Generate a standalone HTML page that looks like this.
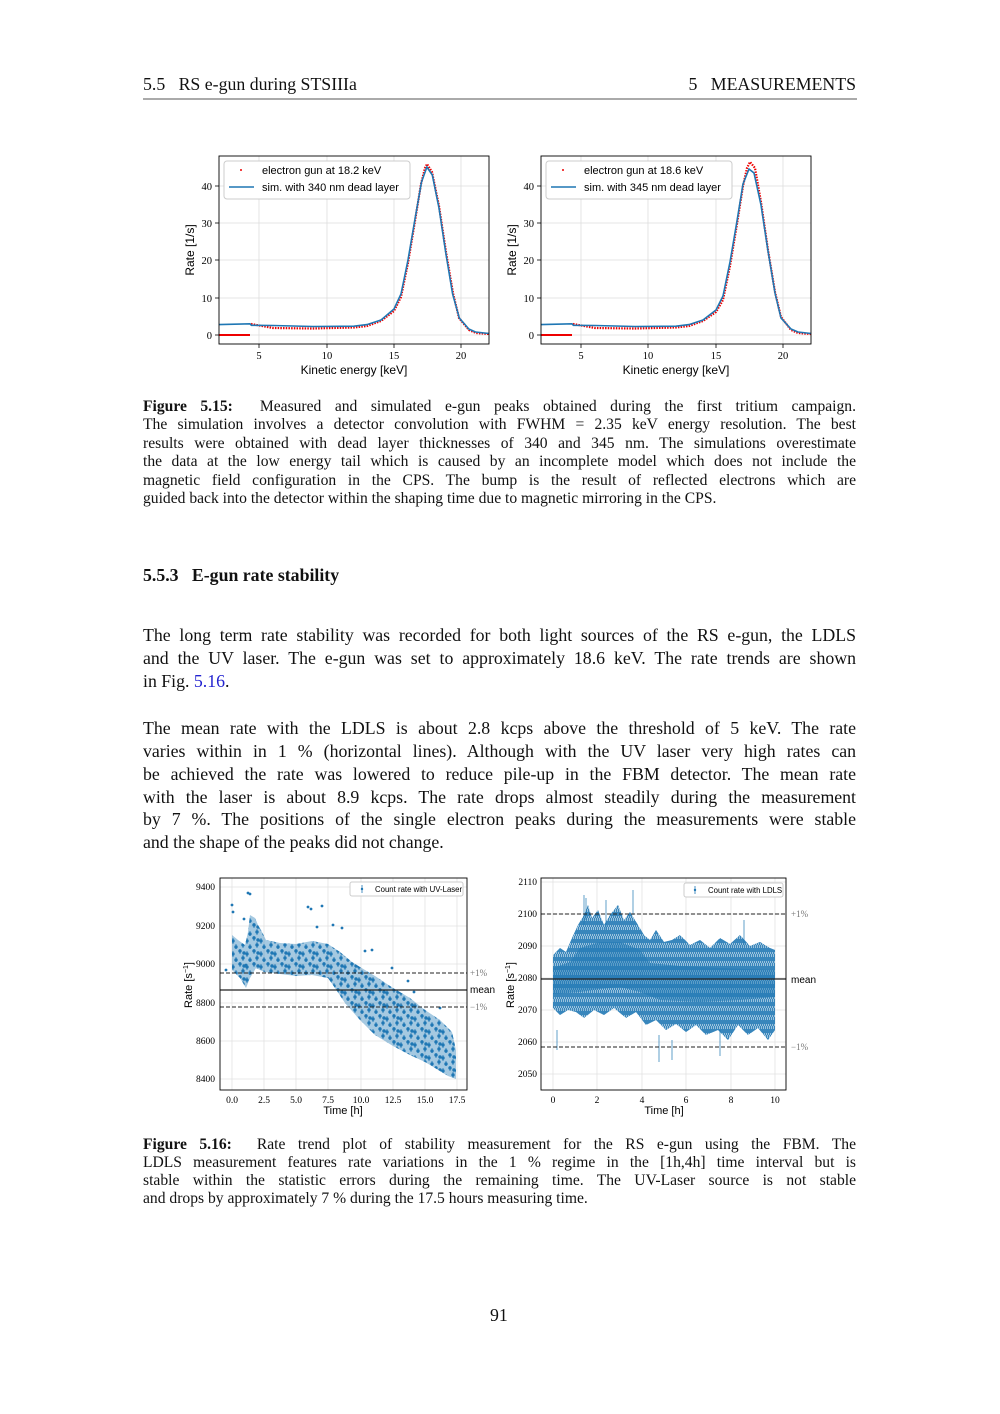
<!DOCTYPE html>
<html><head><meta charset="utf-8">
<style>
body{margin:0;background:#fff;width:1000px;height:1414px;position:relative;overflow:hidden;font-family:"Liberation Serif",serif;color:#111}
.t{position:absolute;white-space:nowrap}
.l{position:absolute;left:143px;width:713px;text-align:justify;text-align-last:justify;white-space:nowrap;font-size:17.8px}
.c{position:absolute;left:143px;width:713px;text-align:justify;text-align-last:justify;white-space:nowrap;font-size:15.6px}
.last{text-align-last:left}
svg{position:absolute;left:0;top:0}
.sn{font-family:"Liberation Sans",sans-serif}
.sr{font-family:"Liberation Serif",serif}
</style></head><body>
<div class="t" style="left:143px;top:74px;font-size:17.8px">5.5&nbsp;&nbsp;&nbsp;RS e-gun during STSIIIa</div>
<div class="t" style="right:144px;top:74px;font-size:17.8px">5&nbsp;&nbsp;&nbsp;MEASUREMENTS</div>
<div style="position:absolute;left:143px;top:98px;width:714px;height:2px;background:#aaa"></div>

<svg width="1000" height="1414" xmlns="http://www.w3.org/2000/svg">
<defs>
<pattern id="pd" width="14" height="13" patternUnits="userSpaceOnUse">
<g fill="#1f77b4" stroke="#1f77b4" stroke-width="0.8">
<circle cx="2" cy="2" r="1.3"/><line x1="2" y1="-1" x2="2" y2="5"/>
<circle cx="9" cy="5" r="1.3"/><line x1="9" y1="2" x2="9" y2="8"/>
<circle cx="5" cy="9" r="1.3"/><line x1="5" y1="6" x2="5" y2="12"/>
<circle cx="12" cy="11" r="1.3"/><line x1="12" y1="8" x2="12" y2="14"/>
<circle cx="6" cy="4" r="1.3"/>
</g></pattern>
<pattern id="pv" width="2" height="9" patternUnits="userSpaceOnUse">
<line x1="0.5" y1="0" x2="0.5" y2="7" stroke="#1f77b4" stroke-width="0.8"/>
<line x1="1.5" y1="3" x2="1.5" y2="9" stroke="#1f77b4" stroke-width="0.8"/>
</pattern>
</defs>

<!-- ===== top ===== -->
<g stroke="#ddd" stroke-width="0.8">
<line x1="259" y1="156" x2="259" y2="344"/><line x1="327" y1="156" x2="327" y2="344"/><line x1="394" y1="156" x2="394" y2="344"/><line x1="461" y1="156" x2="461" y2="344"/>
<line x1="219" y1="335" x2="489" y2="335"/><line x1="219" y1="298" x2="489" y2="298"/><line x1="219" y1="260" x2="489" y2="260"/><line x1="219" y1="223" x2="489" y2="223"/><line x1="219" y1="186" x2="489" y2="186"/>
<line x1="581" y1="156" x2="581" y2="344"/><line x1="648" y1="156" x2="648" y2="344"/><line x1="716" y1="156" x2="716" y2="344"/><line x1="783" y1="156" x2="783" y2="344"/>
<line x1="541" y1="335" x2="811" y2="335"/><line x1="541" y1="298" x2="811" y2="298"/><line x1="541" y1="260" x2="811" y2="260"/><line x1="541" y1="223" x2="811" y2="223"/><line x1="541" y1="186" x2="811" y2="186"/>
</g>
<g stroke="#000" stroke-width="0.8">
<line x1="259" y1="344" x2="259" y2="348"/><line x1="327" y1="344" x2="327" y2="348"/><line x1="394" y1="344" x2="394" y2="348"/><line x1="461" y1="344" x2="461" y2="348"/>
<line x1="215" y1="335" x2="219" y2="335"/><line x1="215" y1="298" x2="219" y2="298"/><line x1="215" y1="260" x2="219" y2="260"/><line x1="215" y1="223" x2="219" y2="223"/><line x1="215" y1="186" x2="219" y2="186"/>
<line x1="581" y1="344" x2="581" y2="348"/><line x1="648" y1="344" x2="648" y2="348"/><line x1="716" y1="344" x2="716" y2="348"/><line x1="783" y1="344" x2="783" y2="348"/>
<line x1="537" y1="335" x2="541" y2="335"/><line x1="537" y1="298" x2="541" y2="298"/><line x1="537" y1="260" x2="541" y2="260"/><line x1="537" y1="223" x2="541" y2="223"/><line x1="537" y1="186" x2="541" y2="186"/>
</g>
<g class="sr" font-size="10.5" text-anchor="middle">
<text x="259" y="359">5</text><text x="327" y="359">10</text><text x="394" y="359">15</text><text x="461" y="359">20</text>
<text x="581" y="359">5</text><text x="648" y="359">10</text><text x="716" y="359">15</text><text x="783" y="359">20</text>
</g>
<g class="sr" font-size="10.5" text-anchor="end">
<text x="212" y="339">0</text><text x="212" y="302">10</text><text x="212" y="264">20</text><text x="212" y="227">30</text><text x="212" y="190">40</text>
<text x="534" y="339">0</text><text x="534" y="302">10</text><text x="534" y="264">20</text><text x="534" y="227">30</text><text x="534" y="190">40</text>
</g>
<line x1="219" y1="335" x2="250" y2="335" stroke="#e00" stroke-width="2"/>
<path d="M251,324 L273,328 L313,328.5 L354,327.5 L367,326 L381,321 L394,311 L401,297 L408,263 L415,221 L421,184 L425,168 L427,164 L432,172 L439,206 L446,252 L453,293 L459,318 L469,330 L476,333 L489,334" fill="none" stroke="#e00" stroke-width="2.2" stroke-dasharray="1.5,1.2"/>
<line x1="541" y1="335" x2="572" y2="335" stroke="#e00" stroke-width="2"/>
<path d="M573,324 L595,328 L635,328.5 L676,327.5 L689,326 L703,321 L716,312 L723,300 L730,266 L737,224 L743,186 L747,168 L750,162 L755,168 L761,202 L768,250 L775,292 L781,317 L791,330 L798,333 L811,334" fill="none" stroke="#e00" stroke-width="2.2" stroke-dasharray="1.5,1.2"/>
<path d="M219,324.6 L250,323.8 L251.4,325.3 L273,325.5 L313,326.5 L354,326.2 L367,324.6 L381,320 L394,309 L401,294 L408,260 L415,219 L421.5,182 L426.9,167 L432.3,175 L439,208 L445.8,253 L452.6,294 L459.3,318 L468.8,329 L475.5,332 L489,333.5" fill="none" stroke="#1f77b4" stroke-width="1.6"/>
<path d="M541,324.6 L572,323.8 L573.4,325.3 L595,325.5 L635,326.5 L676,326.2 L689,324.6 L703,320 L716,310 L723,296 L730,262 L737,221 L743,184 L749,169 L754,173 L761,205 L768,251 L775,293 L781,318 L791,329 L798,332 L811,333.5" fill="none" stroke="#1f77b4" stroke-width="1.6"/>
<rect x="219" y="156" width="270" height="188" fill="none" stroke="#000" stroke-width="0.9"/>
<rect x="541" y="156" width="270" height="188" fill="none" stroke="#000" stroke-width="0.9"/>
<rect x="224" y="161" width="186" height="38" fill="#fff" stroke="#ccc" rx="3"/>
<circle cx="241" cy="170" r="1" fill="#e00"/><line x1="229" y1="187" x2="254" y2="187" stroke="#1f77b4" stroke-width="1.6"/>
<text class="sn" x="262" y="174" font-size="11">electron gun at 18.2 keV</text>
<text class="sn" x="262" y="191" font-size="11">sim. with 340 nm dead layer</text>
<rect x="546" y="161" width="186" height="38" fill="#fff" stroke="#ccc" rx="3"/>
<circle cx="563" cy="170" r="1" fill="#e00"/><line x1="551" y1="187" x2="576" y2="187" stroke="#1f77b4" stroke-width="1.6"/>
<text class="sn" x="584" y="174" font-size="11">electron gun at 18.6 keV</text>
<text class="sn" x="584" y="191" font-size="11">sim. with 345 nm dead layer</text>
<text class="sn" x="354" y="374" font-size="12" text-anchor="middle">Kinetic energy [keV]</text>
<text class="sn" x="676" y="374" font-size="12" text-anchor="middle">Kinetic energy [keV]</text>
<text class="sn" font-size="12" text-anchor="middle" transform="translate(194,250) rotate(-90)">Rate [1/s]</text>
<text class="sn" font-size="12" text-anchor="middle" transform="translate(516,250) rotate(-90)">Rate [1/s]</text>

<!-- ===== bottom left ===== -->
<g stroke="#e2e2e2" stroke-width="0.8">
<line x1="232" y1="878" x2="232" y2="1090"/><line x1="264" y1="878" x2="264" y2="1090"/><line x1="296" y1="878" x2="296" y2="1090"/><line x1="328" y1="878" x2="328" y2="1090"/><line x1="361" y1="878" x2="361" y2="1090"/><line x1="393" y1="878" x2="393" y2="1090"/><line x1="425" y1="878" x2="425" y2="1090"/><line x1="457" y1="878" x2="457" y2="1090"/>
<line x1="220" y1="887" x2="467" y2="887"/><line x1="220" y1="926" x2="467" y2="926"/><line x1="220" y1="964" x2="467" y2="964"/><line x1="220" y1="1003" x2="467" y2="1003"/><line x1="220" y1="1041" x2="467" y2="1041"/><line x1="220" y1="1079" x2="467" y2="1079"/>
</g>
<g class="sr" font-size="9.5" text-anchor="middle">
<text x="232" y="1103">0.0</text><text x="264" y="1103">2.5</text><text x="296" y="1103">5.0</text><text x="328" y="1103">7.5</text><text x="361" y="1103">10.0</text><text x="393" y="1103">12.5</text><text x="425" y="1103">15.0</text><text x="457" y="1103">17.5</text>
</g>
<g class="sr" font-size="9.5" text-anchor="end">
<text x="215" y="890">9400</text><text x="215" y="929">9200</text><text x="215" y="967">9000</text><text x="215" y="1006">8800</text><text x="215" y="1044">8600</text><text x="215" y="1082">8400</text>
</g>
<polygon points="232,935 238,940 245,945 248,932 250,915 255,918 258,925 262,932 266,940 280,943 296,944 312,941 328,944 340,952 352,962 360,967 375,976 393,988 410,998 425,1010 440,1020 452,1032 456,1050 456,1079 448,1076 435,1068 425,1062 410,1055 393,1046 375,1035 360,1020 345,1003 335,988 328,978 312,975 296,976 280,974 264,972 256,968 250,978 246,988 240,978 232,970" fill="#1f77b4" fill-opacity="0.4"/>
<polygon points="232,935 238,940 245,945 248,932 250,915 255,918 258,925 262,932 266,940 280,943 296,944 312,941 328,944 340,952 352,962 360,967 375,976 393,988 410,998 425,1010 440,1020 452,1032 456,1050 456,1079 448,1076 435,1068 425,1062 410,1055 393,1046 375,1035 360,1020 345,1003 335,988 328,978 312,975 296,976 280,974 264,972 256,968 250,978 246,988 240,978 232,970" fill="url(#pd)"/>
<g fill="#1f77b4">
<circle cx="232" cy="905" r="1.4"/><circle cx="233" cy="912" r="1.4"/><circle cx="248" cy="893" r="1.4"/><circle cx="250" cy="894" r="1.4"/><circle cx="244" cy="919" r="1.4"/><circle cx="308" cy="907" r="1.4"/><circle cx="311" cy="909" r="1.4"/><circle cx="322" cy="906" r="1.4"/><circle cx="333" cy="925" r="1.4"/><circle cx="317" cy="927" r="1.4"/><circle cx="342" cy="928" r="1.4"/><circle cx="365" cy="951" r="1.4"/><circle cx="372" cy="950" r="1.4"/><circle cx="392" cy="968" r="1.4"/><circle cx="408" cy="981" r="1.4"/><circle cx="414" cy="992" r="1.4"/><circle cx="440" cy="1008" r="1.4"/><circle cx="246" cy="965" r="1.4"/><circle cx="226" cy="970" r="1.4"/>
</g>
<line x1="220" y1="990" x2="467" y2="990" stroke="#222" stroke-width="1.2"/>
<line x1="220" y1="973" x2="467" y2="973" stroke="#222" stroke-width="1.1" stroke-dasharray="4,2"/>
<line x1="220" y1="1007" x2="467" y2="1007" stroke="#222" stroke-width="1.1" stroke-dasharray="4,2"/>
<rect x="220" y="878" width="247" height="212" fill="none" stroke="#000" stroke-width="0.9"/>
<text class="sr" x="470" y="976" font-size="9" fill="#777">+1%</text>
<text class="sn" x="470" y="993" font-size="10">mean</text>
<text class="sr" x="470" y="1010" font-size="9" fill="#777">−1%</text>
<rect x="350" y="882" width="113" height="14" fill="#fff" stroke="#ccc" rx="2"/>
<line x1="362" y1="885" x2="362" y2="893" stroke="#1f77b4" stroke-width="0.8"/><circle cx="362" cy="889" r="1.2" fill="#1f77b4"/>
<text class="sn" x="375" y="892" font-size="7.8">Count rate with UV-Laser</text>
<text class="sn" x="343" y="1114" font-size="11" text-anchor="middle">Time [h]</text>
<text class="sn" font-size="11" text-anchor="middle" transform="translate(192,985) rotate(-90)">Rate [s<tspan font-size="7" dy="-4">−1</tspan><tspan dy="4">]</tspan></text>

<!-- ===== bottom right ===== -->
<g stroke="#e2e2e2" stroke-width="0.8">
<line x1="553" y1="878" x2="553" y2="1090"/><line x1="597" y1="878" x2="597" y2="1090"/><line x1="642" y1="878" x2="642" y2="1090"/><line x1="686" y1="878" x2="686" y2="1090"/><line x1="731" y1="878" x2="731" y2="1090"/><line x1="775" y1="878" x2="775" y2="1090"/>
<line x1="541" y1="882" x2="786" y2="882"/><line x1="541" y1="914" x2="786" y2="914"/><line x1="541" y1="946" x2="786" y2="946"/><line x1="541" y1="978" x2="786" y2="978"/><line x1="541" y1="1010" x2="786" y2="1010"/><line x1="541" y1="1042" x2="786" y2="1042"/><line x1="541" y1="1074" x2="786" y2="1074"/>
</g>
<g class="sr" font-size="9.5" text-anchor="middle">
<text x="553" y="1103">0</text><text x="597" y="1103">2</text><text x="642" y="1103">4</text><text x="686" y="1103">6</text><text x="731" y="1103">8</text><text x="775" y="1103">10</text>
</g>
<g class="sr" font-size="9.5" text-anchor="end">
<text x="537" y="885">2110</text><text x="537" y="917">2100</text><text x="537" y="949">2090</text><text x="537" y="981">2080</text><text x="537" y="1013">2070</text><text x="537" y="1045">2060</text><text x="537" y="1077">2050</text>
</g>
<polygon points="553,955 560,948 566,952 572,938 578,925 584,915 588,905 592,918 598,910 604,925 610,915 618,905 624,920 630,912 638,925 644,935 650,940 656,930 664,942 672,940 680,935 690,945 700,940 710,948 720,938 730,944 740,935 750,946 760,942 770,948 775,950 775,1030 768,1040 758,1028 748,1035 738,1025 728,1040 718,1030 706,1035 696,1025 686,1032 676,1024 666,1030 656,1020 646,1025 636,1012 626,1018 614,1008 604,1015 594,1010 584,1018 576,1012 568,1010 560,1015 553,1008" fill="#1f77b4" fill-opacity="0.45"/>
<polygon points="553,955 560,948 566,952 572,938 578,925 584,915 588,905 592,918 598,910 604,925 610,915 618,905 624,920 630,912 638,925 644,935 650,940 656,930 664,942 672,940 680,935 690,945 700,940 710,948 720,938 730,944 740,935 750,946 760,942 770,948 775,950 775,1030 768,1040 758,1028 748,1035 738,1025 728,1040 718,1030 706,1035 696,1025 686,1032 676,1024 666,1030 656,1020 646,1025 636,1012 626,1018 614,1008 604,1015 594,1010 584,1018 576,1012 568,1010 560,1015 553,1008" fill="url(#pv)"/>
<polygon points="553,968 570,962 580,948 600,942 620,942 640,950 650,963 680,966 720,968 775,970 775,997 740,1000 700,1002 660,1000 640,992 620,987 600,989 580,992 553,994" fill="#1f77b4" fill-opacity="0.5"/>
<g stroke="#1f77b4" stroke-width="0.7">
<line x1="584" y1="895" x2="584" y2="925"/><line x1="586" y1="898" x2="586" y2="920"/><line x1="633" y1="890" x2="633" y2="915"/><line x1="606" y1="900" x2="606" y2="930"/><line x1="659" y1="1035" x2="659" y2="1062"/><line x1="672" y1="1040" x2="672" y2="1060"/><line x1="720" y1="1030" x2="720" y2="1056"/><line x1="744" y1="920" x2="744" y2="945"/><line x1="557" y1="1030" x2="557" y2="1050"/>
</g>
<line x1="541" y1="979" x2="786" y2="979" stroke="#222" stroke-width="1.2"/>
<line x1="541" y1="914" x2="786" y2="914" stroke="#222" stroke-width="1.1" stroke-dasharray="4,2"/>
<line x1="541" y1="1047" x2="786" y2="1047" stroke="#222" stroke-width="1.1" stroke-dasharray="4,2"/>
<rect x="541" y="878" width="245" height="212" fill="none" stroke="#000" stroke-width="0.9"/>
<text class="sr" x="791" y="917" font-size="9" fill="#777">+1%</text>
<text class="sn" x="791" y="983" font-size="10">mean</text>
<text class="sr" x="791" y="1050" font-size="9" fill="#777">−1%</text>
<rect x="684" y="883" width="99" height="14" fill="#fff" stroke="#ccc" rx="2"/>
<line x1="695" y1="886" x2="695" y2="894" stroke="#1f77b4" stroke-width="0.8"/><circle cx="695" cy="890" r="1.2" fill="#1f77b4"/>
<text class="sn" x="708" y="893" font-size="7.8">Count rate with LDLS</text>
<text class="sn" x="664" y="1114" font-size="11" text-anchor="middle">Time [h]</text>
<text class="sn" font-size="11" text-anchor="middle" transform="translate(514,985) rotate(-90)">Rate [s<tspan font-size="7" dy="-4">−1</tspan><tspan dy="4">]</tspan></text>
</svg>

<div class="c" style="top:398px"><b>Figure 5.15:</b>&nbsp; Measured and simulated e-gun peaks obtained during the first tritium campaign.</div>
<div class="c" style="top:416px">The simulation involves a detector convolution with FWHM = 2.35 keV energy resolution. The best</div>
<div class="c" style="top:435px">results were obtained with dead layer thicknesses of 340 and 345 nm. The simulations overestimate</div>
<div class="c" style="top:453px">the data at the low energy tail which is caused by an incomplete model which does not include the</div>
<div class="c" style="top:472px">magnetic field configuration in the CPS. The bump is the result of reflected electrons which are</div>
<div class="c last" style="top:490px">guided back into the detector within the shaping time due to magnetic mirroring in the CPS.</div>

<div class="t" style="left:143px;top:565px;font-size:17.8px;font-weight:bold">5.5.3&nbsp;&nbsp;&nbsp;E-gun rate stability</div>

<div class="l" style="top:625px">The long term rate stability was recorded for both light sources of the RS e-gun, the LDLS</div>
<div class="l" style="top:648px">and the UV laser. The e-gun was set to approximately 18.6 keV. The rate trends are shown</div>
<div class="l last" style="top:671px">in Fig. <span style="color:#2323d0">5.16</span>.</div>
<div class="l" style="top:718px">The mean rate with the LDLS is about 2.8 kcps above the threshold of 5 keV. The rate</div>
<div class="l" style="top:741px">varies within in 1 % (horizontal lines). Although with the UV laser very high rates can</div>
<div class="l" style="top:764px">be achieved the rate was lowered to reduce pile-up in the FBM detector. The mean rate</div>
<div class="l" style="top:787px">with the laser is about 8.9 kcps. The rate drops almost steadily during the measurement</div>
<div class="l" style="top:809px">by 7 %. The positions of the single electron peaks during the measurements were stable</div>
<div class="l last" style="top:832px">and the shape of the peaks did not change.</div>

<div class="c" style="top:1136px"><b>Figure 5.16:</b>&nbsp; Rate trend plot of stability measurement for the RS e-gun using the FBM. The</div>
<div class="c" style="top:1154px">LDLS measurement features rate variations in the 1 % regime in the [1h,4h] time interval but is</div>
<div class="c" style="top:1172px">stable within the statistic errors during the remaining time. The UV-Laser source is not stable</div>
<div class="c last" style="top:1190px">and drops by approximately 7 % during the 17.5 hours measuring time.</div>

<div class="t" style="left:490px;top:1305px;font-size:17.8px">91</div>
</body></html>
